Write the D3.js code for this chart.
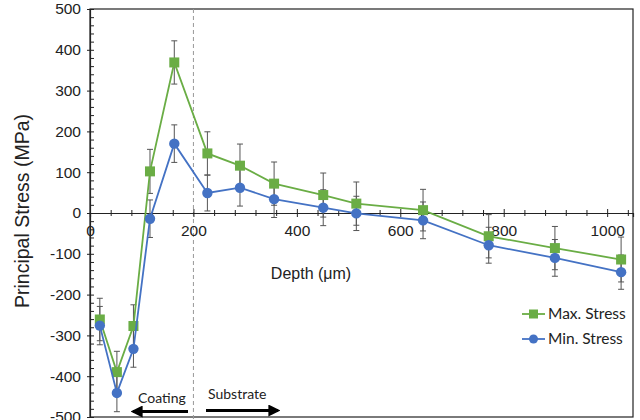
<!DOCTYPE html>
<html>
<head>
<meta charset="utf-8">
<script src="https://cdn.jsdelivr.net/npm/d3@7"></script>
<style>
  body { margin: 0; background: #fff; }
  svg { display: block; }
  text { font-family: "Liberation Sans", Arial, sans-serif; fill: #222; }
</style>
</head>
<body>
<svg id="chart"></svg>
<script>
const width = 640;
const height = 420;

// depth (µm) readings
const depth = [19, 52, 84, 116, 163, 227, 290, 356, 451, 515, 644, 771, 899, 1027];
const maxStress = [-261, -390, -277, 102, 369, 146, 116, 72, 44, 23, 7, -57, -86, -114];
const maxErr = [52, 51, 52, 54, 53, 53, 53, 53, 54, 53, 51, 53, 53, 55];
const minStress = [-276, -441, -333, -14, 170, 49, 62, 34, 13, -1, -18, -79, -110, -145];
const minErr = [47, 46, 45, 46, 46, 44, 45, 45, 44, 42, 45, 44, 45, 42];
const xTicks = [0, 200, 400, 600, 800, 1000];
const yTicks = [-500, -400, -300, -200, -100, 0, 100, 200, 300, 400, 500];

const series = [
  { name: "Max. Stress", values: maxStress, err: maxErr, color: "#6aad45", shape: "square" },
  { name: "Min. Stress", values: minStress, err: minErr, color: "#4472c4", shape: "circle" }
];

const plotLeft = 90, plotRight = 633, plotTop = 9, plotBottom = 417;
const plain = d => String(d);

const svg = d3.select("#chart")
  .attr("width", width)
  .attr("height", height);

const x = d3.scaleLinear().domain([0, 1050]).range([plotLeft, plotRight]);
const y = d3.scaleLinear().domain([-500, 500]).range([plotBottom, plotTop]);

// frame
svg.append("rect")
  .attr("x", plotLeft).attr("y", plotTop)
  .attr("width", plotRight - plotLeft).attr("height", plotBottom - plotTop)
  .attr("fill", "none").attr("stroke", "#222").attr("stroke-width", 1.2);

// coating / substrate boundary
svg.append("line")
  .attr("x1", x(200)).attr("x2", x(200))
  .attr("y1", plotTop).attr("y2", height)
  .attr("stroke", "#999").attr("stroke-width", 1)
  .attr("stroke-dasharray", "4,3");

// y axis
const yg = svg.append("g")
  .attr("transform", `translate(${plotLeft},0)`)
  .call(d3.axisLeft(y).tickValues(yTicks).tickSize(3).tickPadding(6).tickFormat(plain));
yg.select(".domain").attr("stroke", "#222").attr("stroke-width", 1.2);
yg.selectAll(".tick line").attr("x2", 4).attr("x1", -3).attr("stroke", "#222");
yg.selectAll(".tick text").style("font-size", "15.5px").attr("fill", "#222");

const yMinor = svg.append("g")
  .attr("transform", `translate(${plotLeft},0)`)
  .call(d3.axisRight(y).tickValues(d3.range(-500, 501, 20).filter(v => v % 100 !== 0)).tickSize(4).tickFormat(""));
yMinor.select(".domain").remove();
yMinor.selectAll(".tick line").attr("stroke", "#222");

// x axis along zero line
const xg = svg.append("g")
  .attr("transform", `translate(0,${y(0)})`)
  .call(d3.axisBottom(x).tickValues(xTicks).tickSize(4).tickPadding(8).tickFormat(plain));
xg.select(".domain").attr("stroke", "#222").attr("stroke-width", 1.2);
xg.selectAll(".tick line").attr("y1", -4).attr("y2", 4).attr("stroke", "#222");
xg.selectAll(".tick text").style("font-size", "15.5px").attr("fill", "#222");

const xMinor = svg.append("g")
  .attr("transform", `translate(0,${y(0)})`)
  .call(d3.axisBottom(x).tickValues(d3.range(0, 1050, 40).filter(v => v % 200 !== 0)).tickSize(3).tickFormat(""));
xMinor.select(".domain").remove();
xMinor.selectAll(".tick line").attr("y1", -3).attr("y2", 3).attr("stroke", "#222");

// axis titles
svg.append("text")
  .attr("x", 311).attr("y", 279)
  .attr("text-anchor", "middle")
  .style("font-size", "16px")
  .text("Depth (μm)");

svg.append("text")
  .attr("transform", `translate(29,211) rotate(-90)`)
  .attr("text-anchor", "middle")
  .style("font-size", "19.5px")
  .text("Principal Stress (MPa)");

// error bars
series.forEach(s => {
  const g = svg.append("g").attr("stroke", "#555").attr("stroke-width", 1);
  depth.forEach((d, i) => {
    const cx = x(d);
    const y1 = y(s.values[i] + s.err[i]);
    const y2 = y(s.values[i] - s.err[i]);
    g.append("line").attr("x1", cx).attr("x2", cx).attr("y1", y1).attr("y2", y2);
    g.append("line").attr("x1", cx - 3).attr("x2", cx + 3).attr("y1", y1).attr("y2", y1);
    g.append("line").attr("x1", cx - 3).attr("x2", cx + 3).attr("y1", y2).attr("y2", y2);
  });
});

// lines and markers
const line = d3.line().x((d, i) => x(depth[i])).y(d => y(d));

series.forEach(s => {
  svg.append("path")
    .datum(s.values)
    .attr("d", line)
    .attr("fill", "none")
    .attr("stroke", s.color)
    .attr("stroke-width", 1.8);

  if (s.shape === "square") {
    svg.selectAll(null)
      .data(s.values)
      .enter()
      .append("rect")
      .attr("x", (d, i) => x(depth[i]) - 5)
      .attr("y", d => y(d) - 5)
      .attr("width", 10).attr("height", 10)
      .attr("fill", s.color);
  } else {
    svg.selectAll(null)
      .data(s.values)
      .enter()
      .append("circle")
      .attr("cx", (d, i) => x(depth[i]))
      .attr("cy", d => y(d))
      .attr("r", 5.2)
      .attr("fill", s.color);
  }
});

// legend
const legend = svg.append("g");
series.forEach((s, i) => {
  const ly = 314 + i * 25;
  legend.append("line")
    .attr("x1", 522).attr("x2", 545).attr("y1", ly).attr("y2", ly)
    .attr("stroke", s.color).attr("stroke-width", 1.8);
  if (s.shape === "square") {
    legend.append("rect").attr("x", 529).attr("y", ly - 4.5).attr("width", 9).attr("height", 9).attr("fill", s.color);
  } else {
    legend.append("circle").attr("cx", 533.5).attr("cy", ly).attr("r", 4.5).attr("fill", s.color);
  }
  legend.append("text")
    .attr("x", 548).attr("y", ly + 5)
    .style("font-family", "Lato, 'Open Sans', sans-serif")
    .style("font-size", "15.5px")
    .text(s.name);
});

// coating / substrate annotation
svg.append("defs").append("marker")
  .attr("id", "head")
  .attr("viewBox", "0 0 10 10")
  .attr("refX", 8).attr("refY", 5)
  .attr("markerWidth", 4).attr("markerHeight", 4)
  .attr("orient", "auto")
  .append("path")
  .attr("d", "M0,0 L10,5 L0,10 Z")
  .attr("fill", "#000");

svg.append("line")
  .attr("x1", 188).attr("x2", 133).attr("y1", 411.5).attr("y2", 411.5)
  .attr("stroke", "#000").attr("stroke-width", 3)
  .attr("marker-end", "url(#head)");
svg.append("line")
  .attr("x1", 206).attr("x2", 278).attr("y1", 410.5).attr("y2", 410.5)
  .attr("stroke", "#000").attr("stroke-width", 3)
  .attr("marker-end", "url(#head)");

svg.append("text")
  .attr("x", 138).attr("y", 403)
  .style("font-family", "Lato, 'Open Sans', sans-serif")
  .style("font-size", "14px")
  .text("Coating");
svg.append("text")
  .attr("x", 208).attr("y", 399)
  .style("font-family", "Lato, 'Open Sans', sans-serif")
  .style("font-size", "14px")
  .text("Substrate");
</script>
</body>
</html>
